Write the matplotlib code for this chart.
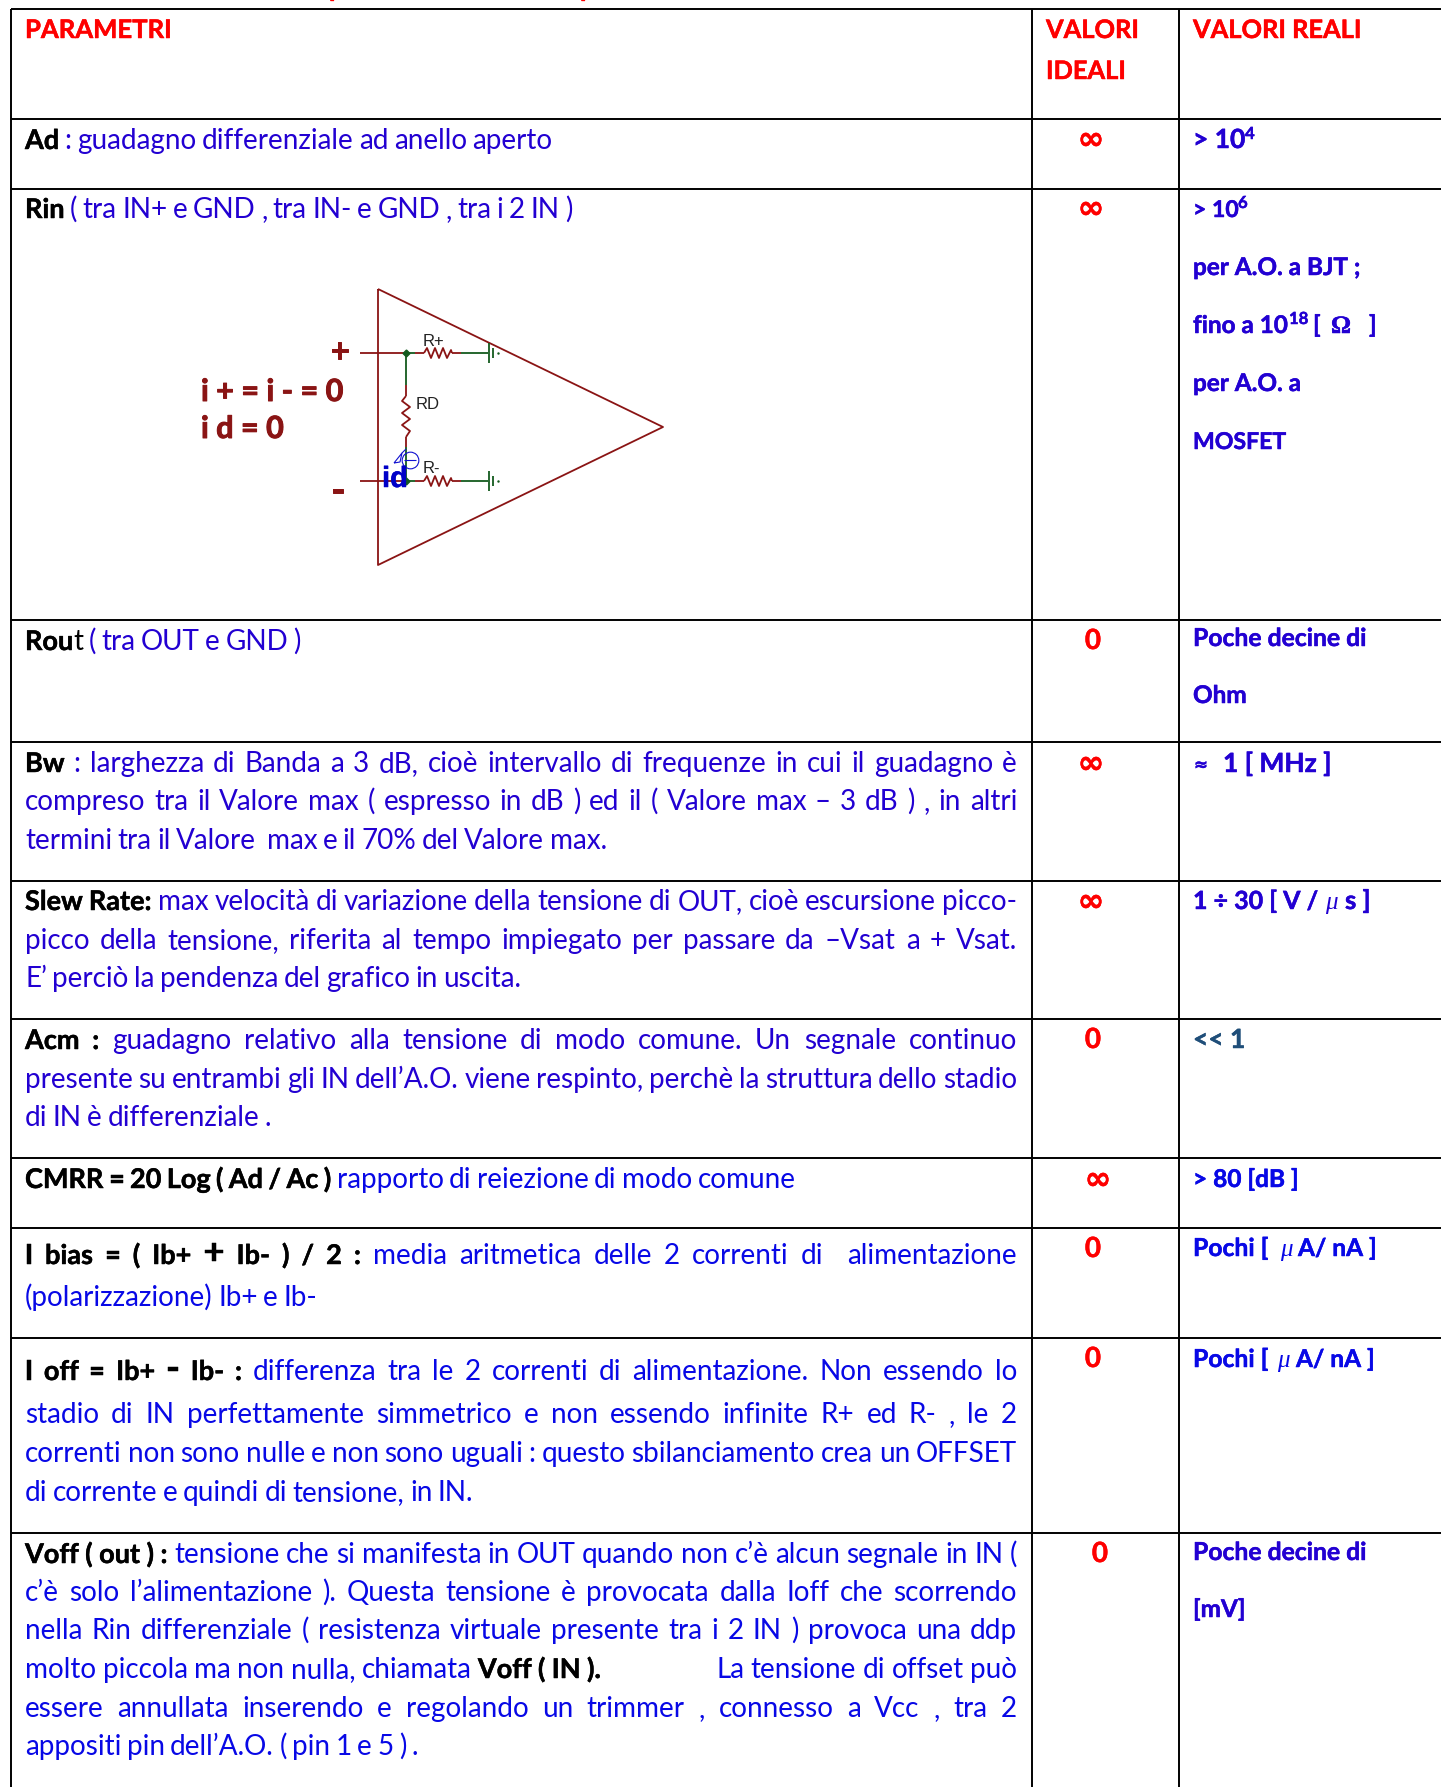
import matplotlib
matplotlib.use("Agg")
import matplotlib.pyplot as plt
import matplotlib.patheffects as pe

WIDTH, HEIGHT = 1441, 1787
FS = 20.1  # body font size
FS_BOLD = 19.5

BLUE = "#2200d2"
BLUE2 = "#0808e6"
RED = "#fe0000"
BLACK = "#000000"
DARK = "#1f4e79"
WIRE_RED = "#8a1414"
WIRE_GREEN = "#145a1e"

# table grid
col_lines = [11, 1032, 1179]
row_lines = [9, 119, 189, 620, 742, 881, 1019, 1158, 1228, 1338, 1533]

# left column: one list per printed line, (text, style)
# n = blue text, b = bold black, k = plain black, B = bold black and larger
col_params = [
    [("Ad", "b"), (" : guadagno differenziale ad anello aperto", "n")],
    [("Rin", "b"), (" ( tra IN+ e GND , tra IN- e GND , tra i 2 IN )", "n")],
    [("Rou", "b"), ("t", "k"), (" ( tra OUT e GND )", "n")],
    [("Bw", "b"), (" : larghezza di Banda a 3 dB, cioè intervallo di frequenze in cui il guadagno è", "n")],
    [("compreso tra il Valore max ( espresso in dB ) ed il ( Valore max – 3 dB ) , in altri", "n")],
    [("termini tra il Valore  max e il 70% del Valore max.", "n")],
    [("Slew Rate:", "b"), (" max velocità di variazione della tensione di OUT, cioè escursione picco-", "n")],
    [("picco della tensione, riferita al tempo impiegato per passare da –Vsat a + Vsat.", "n")],
    [("E’ perciò la pendenza del grafico in uscita.", "n")],
    [("Acm :", "b"), (" guadagno relativo alla tensione di modo comune. Un segnale continuo", "n")],
    [("presente su entrambi gli IN dell’A.O. viene respinto, perchè la struttura dello stadio", "n")],
    [("di IN è differenziale .", "n")],
    [("CMRR = 20 Log ( Ad / Ac )", "b"), (" rapporto di reiezione di modo comune", "n")],
    [("I bias = ( Ib+", "b"), (" +", "B"), (" Ib- ) / 2 :", "b"), (" media aritmetica delle 2 correnti di  alimentazione", "n")],
    [("(polarizzazione) Ib+ e Ib-", "n")],
    [("I off = Ib+", "b"), (" -", "B"), (" Ib- :", "b"), (" differenza tra le 2 correnti di alimentazione. Non essendo lo", "n")],
    [("stadio di IN perfettamente simmetrico e non essendo infinite R+ ed R- , le 2", "n")],
    [("correnti non sono nulle e non sono uguali : questo sbilanciamento crea un OFFSET", "n")],
    [("di corrente e quindi di tensione, in IN.", "n")],
    [("Voff ( out ) :", "b"), (" tensione che si manifesta in OUT quando non c’è alcun segnale in IN (", "n")],
    [("c’è solo l’alimentazione ). Questa tensione è provocata dalla Ioff che scorrendo", "n")],
    [("nella Rin differenziale ( resistenza virtuale presente tra i 2 IN ) provoca una ddp", "n")],
    [("molto piccola ma non nulla, chiamata", "n"), (" Voff ( IN ).", "b"), ("                  La tensione di offset può", "n")],
    [("essere annullata inserendo e regolando un trimmer , connesso a Vcc , tra 2", "n")],
    [("appositi pin dell’A.O. ( pin 1 e 5 ) .", "n")],
]
col_params_base = [149, 218, 650, 772, 810, 849, 910, 949, 987, 1049, 1088, 1126, 1188,
                   1264, 1306, 1380, 1423, 1462, 1501, 1563, 1601, 1639, 1678, 1717, 1755]
col_params_just = [0, 0, 0, 1, 1, 0, 1, 1, 0, 1, 1, 0, 0, 1, 0, 1, 1, 1, 0, 1, 1, 1, 1, 1, 0]
bright_from = 12  # lines from this one on are printed in the brighter blue

# middle column
ideal_vals = ["∞", "∞", "0", "∞", "∞", "0", "∞", "0", "0", "0"]
ideal_x = [1091, 1091, 1093, 1091, 1091, 1093, 1098, 1093, 1093, 1100]
ideal_base = [149, 218, 649, 773, 911, 1048, 1189, 1257, 1367, 1562]

# right column
real_lines = ["> 10", "> 10", "per A.O. a BJT ;", "fino a 10", "per A.O. a", "MOSFET",
              "Poche decine di", "Ohm", "1 [ MHz ]", "1 ÷ 30 [ V /", "<< 1", "> 80 [dB ]",
              "Pochi [", "Pochi [", "Poche decine di", "[mV]"]
real_base = [148, 217, 275, 333, 391, 449, 646, 703, 772, 909, 1048, 1187, 1256, 1367, 1560, 1617]
real_sizes = [19, 16.6, 17.5, 17.5, 17.5, 16.6, 17.8, 17.5, 19, 18, 19, 17.6, 17.8, 17.8, 17.8, 17.5]
real_colors = [BLUE, BLUE, BLUE, BLUE, BLUE, BLUE, BLUE, BLUE, BLUE, BLUE, DARK, BLUE2,
               BLUE2, BLUE2, BLUE, BLUE]

fig = plt.figure(figsize=(WIDTH / 100, HEIGHT / 100), dpi=100)
ax = fig.add_axes([0, 0, 1, 1])
ax.set_xlim(0, WIDTH)
ax.set_ylim(HEIGHT, 0)
ax.axis("off")
renderer = fig.canvas.get_renderer()

STYLES = {
    "n": (BLUE, "normal", FS),
    "b": (BLACK, "bold", FS_BOLD),
    "k": (BLACK, "normal", FS),
    "B": (BLACK, "bold", FS_BOLD * 1.35),
}


def put(x, y, s, color=BLUE, bold=False, size=FS, family="Lato", thick=0.35, **kw):
    t = ax.text(x, y, s, color=color, fontsize=size, family=family,
                fontweight="bold" if bold else "normal", va="baseline", **kw)
    if bold:
        # the reference's bold is heavier than Lato's
        t.set_path_effects([pe.withStroke(linewidth=thick, foreground=color)])
    return t


def word_width(s, style):
    color, weight, size = STYLES[style]
    t = put(0, 0, s, color=color, bold=weight == "bold", size=size)
    w = t.get_window_extent(renderer).width
    t.remove()
    return w


def draw_line(x, y, runs, right=None, blue=BLUE):
    """Draw one line word by word, stretching the gaps if right is given."""
    words = []
    for text, style in runs:
        glued = bool(words) and not text.startswith(" ")
        if words and text.startswith(" "):
            text = text[1:]
        for i, w in enumerate(text.split(" ")):
            words.append((w, style, glued and i == 0))
    total = sum(word_width(w, st) for w, st, _ in words if w)
    gaps = sum(1 for w in words[1:] if not w[2])
    gap = FS * 0.27
    if right is not None:
        gap = (right - x - total) / gaps
    for i, (w, st, glued) in enumerate(words):
        if i and not glued:
            x += gap
        if w:
            color, weight, size = STYLES[st]
            if st == "n":
                color = blue
            put(x, y, w, color=color, bold=weight == "bold", size=size)
            x += word_width(w, st)


# grid
for xv in col_lines:
    ax.plot([xv, xv], [row_lines[0], HEIGHT], color="black", lw=1.4, solid_capstyle="butt")
for yv in row_lines:
    ax.plot([col_lines[0], WIDTH], [yv, yv], color="black", lw=1.4, solid_capstyle="butt")

# bits of the cut off title above the table
for xv in [329, 580]:
    put(xv, -3.5, "p", color=RED, bold=True, size=19)

# headers
put(25, 38, "PARAMETRI", color=RED, bold=True, size=18.5)
put(1046, 38, "VALORI", color=RED, bold=True, size=18.3)
put(1046, 79, "IDEALI", color=RED, bold=True, size=18.3)
put(1193, 38, "VALORI REALI", color=RED, bold=True, size=18.3)

for i, (runs, yb, just) in enumerate(zip(col_params, col_params_base, col_params_just)):
    draw_line(25, yb, runs, right=1017 if just else None,
              blue=BLUE2 if i >= bright_from else BLUE)

for s, xv, yb in zip(ideal_vals, ideal_x, ideal_base):
    put(xv, yb, s, color=RED, bold=True, size=23 if s == "∞" else 20,
        family="DejaVu Sans" if s == "∞" else "Lato", ha="center")

for s, yb, c, sz in zip(real_lines, real_base, real_colors, real_sizes):
    xv = 1223 if s.startswith("1 [") else 1193
    put(xv, yb, s, color=c, bold=True, size=sz)

# superscripts and symbols of the right column
put(1245, 139, "4", bold=True, size=12)
put(1238, 208, "6", bold=True, size=12)
put(1289, 324, "18", bold=True, size=12)
put(1313, 333, "[", bold=True, size=17.5)
put(1331, 333, "Ω", bold=True, size=18, family="Liberation Serif")
put(1369, 333, "]", bold=True, size=17.5)
put(1194, 770, "≈", bold=True, size=12, family="DejaVu Sans")
put(1325, 909, "μ", size=18, family="Liberation Serif", style="italic", color=BLUE)
put(1345, 909, "s ]", bold=True, size=18.5)
put(1280, 1256, "μ", size=18, family="Liberation Serif", style="italic", color=BLUE2)
put(1298, 1256, "A/ nA ]", bold=True, size=17.6, color=BLUE2)
put(1277, 1367, "μ", size=18, family="Liberation Serif", style="italic", color=BLUE2)
put(1296, 1367, "A/ nA ]", bold=True, size=17.6, color=BLUE2)


# op amp sketch
def wire(xs, ys, color=WIRE_RED, lw=1.3):
    ax.plot(xs, ys, color=color, lw=lw, solid_capstyle="butt")


def h_resistor(y):
    xs = [424, 427, 431, 435, 439, 443, 447, 451, 452]
    ys = [y, y - 5, y + 5, y - 5, y + 5, y - 5, y + 5, y - 3, y]
    wire(xs, ys)
    wire([415, 424], [y, y])
    wire([452, 461], [y, y])
    wire([461, 488], [y, y], WIRE_GREEN)
    wire([489, 489], [y - 10, y + 10], WIRE_GREEN)
    wire([493, 493], [y - 5, y + 5], WIRE_GREEN)
    ax.plot([498], [y], ".", color=WIRE_GREEN, ms=1.5)


wire([378, 378, 663, 378], [289, 565, 427, 289])
wire([360, 406], [353, 353])
wire([360, 406], [481, 481])
wire([406, 406], [353, 385], WIRE_GREEN)
wire([406, 406], [385, 396])
wire([406, 402, 410, 402, 410, 402, 410, 406], [396, 401, 407, 413, 419, 425, 431, 437])
wire([406, 406], [437, 447])
wire([406, 406], [447, 481], WIRE_GREEN)
wire([406, 415], [353, 353], WIRE_GREEN)
wire([406, 415], [481, 481], WIRE_GREEN)
ax.plot([406], [353], "D", color=WIRE_GREEN, ms=3.5)
ax.plot([406], [481], "D", color=WIRE_GREEN, ms=3.5)
h_resistor(353)
h_resistor(481)

put(423, 346, "R+", color="#222222", size=12, family="Liberation Sans")
put(416, 409, "RD", color="#222222", size=12, family="Liberation Sans")
put(423, 473, "R-", color="#222222", size=12, family="Liberation Sans")
put(330, 362, "+", color=WIRE_RED, bold=True, size=24, thick=0.7)
put(331, 503, "-", color=WIRE_RED, bold=True, size=28, thick=0.7)
put(201, 401, "i + = i - = 0", color=WIRE_RED, bold=True, size=22, thick=0.7)
put(201, 438, "i d = 0", color=WIRE_RED, bold=True, size=22, thick=0.7)

# ammeter probe
ax.plot([410], [460], "o", mfc="none", mec="#1010d0", ms=12, mew=0.8)
wire([394, 402, 400, 394], [463, 453, 462, 463], "#1010d0", lw=0.8)
wire([402, 406], [453, 449], "#1010d0", lw=0.8)
wire([404, 416], [460, 460], "#1010d0", lw=0.8)
put(382, 487, "id", color="#0000c8", bold=True, size=21, family="Liberation Sans")

fig.savefig("out.png", dpi=100, facecolor="white")
